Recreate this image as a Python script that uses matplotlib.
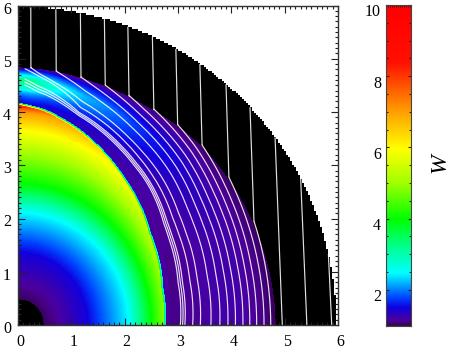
import numpy as np
import matplotlib
matplotlib.use("Agg")
import matplotlib.pyplot as plt
from matplotlib.colors import LinearSegmentedColormap, Normalize
from matplotlib.ticker import MultipleLocator
from matplotlib.transforms import ScaledTranslation

plt.rcParams['font.family'] = ['Liberation Serif', 'DejaVu Serif']

# colour scale
cmap_w = [1.0, 1.15, 1.5, 1.77, 2.47, 3.2, 4.0, 5.0, 5.97, 7.0, 8.4, 10.0]
cmap_c = ['#3a0060', '#4c009c', '#1000e0', '#0040ff', '#00ffff', '#00ff90', '#00ff00',
          '#a0ff00', '#ffff00', '#ffa000', '#ff1000', '#ff0000']

# inner region: radius of each W level on the x axis and on the y axis
levels_w = [1.0, 1.1, 1.25, 1.5, 1.77, 2.47, 4.0, 5.0, 6.0, 7.0, 8.5, 10.0]
levels_rx = [0.46, 0.62, 0.9, 1.3, 1.5, 2.07, 2.5, 2.8, 3.1, 3.3, 3.5, 3.7]
levels_ry = [0.46, 0.62, 0.92, 1.35, 1.55, 2.1, 2.65, 3.2, 3.65, 3.98, 4.13, 4.2]

# inner and outer boundaries of the shell against polar angle
theta_deg = [0, 15, 35, 55, 72, 83, 90]
contact_r = [2.75, 2.8, 3.02, 3.42, 3.82, 4.06, 4.15]
shock_theta = [0, 30, 45, 60, 75, 90]
shock_r = [4.85, 4.83, 4.83, 4.78, 4.8, 4.85]
outer_r = 5.97

# shell: W across the shell, near the x axis and near the y axis
shell_s = [0, 0.1, 0.3, 0.5, 0.65, 0.85, 0.96, 1.0]
shell_w_x = [1.15, 1.13, 1.17, 1.22, 1.22, 1.13, 1.04, 1.0]
shell_w_y = [1.5, 1.6, 2.1, 3.0, 3.3, 2.0, 1.3, 1.0]
blend_theta = [0, 25, 40, 55, 65, 74, 80, 87, 90]
blend_w = [0, 0.01, 0.07, 0.2, 0.35, 0.5, 0.67, 1.0, 1.0]

# streamlines: x position where each one starts at the top
line_b = [0.24, 0.71, 1.17, 1.62, 2.06, 2.52, 2.96, 3.41, 3.9, 4.35, 4.82, 5.3, 5.82]
# tight bundle of lines that start inside the shell
bundle_theta = [0, 30, 48, 74, 85, 90]
bundle_s = [0.18, 0.2, 0.25, 0.31, 0.55, 0.75]
bundle_spread = [1.0, 1.0, 1.0, 1.5, 3.5, 4.0]
bundle_offset = [-0.04, -0.02, 0.0, 0.07]

ticks_main = [0, 1, 2, 3, 4, 5, 6]
ticks_bar = [2, 4, 6, 8, 10]
wmin, wmax = 1.0, 10.0

def contact(t):
    return np.interp(t, theta_deg, contact_r)

def shock(t):
    return np.interp(t, shock_theta, shock_r)

def w_field(X, Y):
    r = np.hypot(X, Y)
    t = np.degrees(np.arctan2(Y, X))
    ct, st = np.cos(np.radians(t)).ravel(), np.sin(np.radians(t)).ravel()
    flat_r = r.ravel()
    lr = np.array([1.0 / np.sqrt((ct / a) ** 2 + (st / b) ** 2) for a, b in zip(levels_rx, levels_ry)])
    idx = np.clip((lr < flat_r).sum(axis=0), 1, len(levels_w) - 1)
    cols = np.arange(flat_r.size)
    r0, r1 = lr[idx - 1, cols], lr[idx, cols]
    wl = np.array(levels_w)
    w_in = wl[idx - 1] + (wl[idx] - wl[idx - 1]) * (flat_r - r0) / (r1 - r0)
    w_in = np.where(flat_r < lr[0], 0.0, w_in).reshape(r.shape)
    rc, rs = contact(t), shock(t)
    s = np.clip((r - rc) / (rs - rc), 0, 1)
    wx = np.interp(s, shell_s, shell_w_x)
    wy = np.interp(s, shell_s, shell_w_y)
    k = np.interp(t, blend_theta, blend_w)
    out = np.where(r < rc, w_in, wx + (wy - wx) * k)
    return np.where(r >= rs, 0.0, out)

def soften(a, w=1):
    # light box blur, matching the soft look of the reference raster
    a = np.pad(a, w, mode='edge')
    kernel = np.ones(2 * w + 1) / (2 * w + 1)
    a = np.apply_along_axis(lambda v: np.convolve(v, kernel, mode='same'), 0, a)
    a = np.apply_along_axis(lambda v: np.convolve(v, kernel, mode='same'), 1, a)
    return a[w:-w, w:-w]

n = 320
cell = 6.0 / n
xs = (np.arange(n) + 0.5) * cell
X, Y = np.meshgrid(xs, xs)
W = soften(w_field(X, Y))
step = 2 * cell
Rsnap = np.hypot(np.floor(X / step) * step + step / 2, np.floor(Y / step) * step + step / 2)
W = np.ma.masked_where(Rsnap > outer_r, W)

cm = LinearSegmentedColormap.from_list(
    'w', [((v - wmin) / (wmax - wmin), c) for v, c in zip(cmap_w, cmap_c)], N=256)
cm.set_under('black')
cm.set_bad('white')
norm = Normalize(wmin, wmax)

fig = plt.figure(figsize=(4.49, 3.49), dpi=100)
W_px, H_px = 449.0, 349.0
ax = fig.add_axes([18 / W_px, 1 - 325 / H_px, 320 / W_px, 319.5 / H_px])
ax.imshow(W, origin='lower', extent=[0, 6, 0, 6], cmap=cm, norm=norm,
          interpolation='nearest', aspect='auto', zorder=1)

line_style = dict(color='white', lw=0.85, alpha=0.88, zorder=2, solid_capstyle='butt')
p = 0.8
for b in line_b:
    lean = 0.008 * b
    top = np.sqrt(max(outer_r ** 2 - b ** 2, 0))
    ys = np.linspace(top, 0, 500)
    xl = b + lean * (top - ys)
    rl = np.hypot(xl, ys)
    tl = np.degrees(np.arctan2(ys, xl))
    inside = rl < shock(tl)
    if inside.any():
        i = np.argmax(inside)
        phi_e = np.radians(90 - tl[i])
        be = shock(tl[i]) * np.sin(phi_e)
        phis = np.linspace(phi_e, np.pi / 2, 300)
        tt = 90 - np.degrees(phis)
        ratio = np.clip(be / (shock(tt) * np.sin(phis)), 0, 1)
        s0 = np.interp(tt, bundle_theta, bundle_s) + 0.07
        s = s0 + (1 - s0) * ratio ** p
        rr = contact(tt) + s * (shock(tt) - contact(tt))
        xp = np.r_[xl[:i + 1], rr * np.sin(phis)]
        yp = np.r_[ys[:i + 1], rr * np.cos(phis)]
    else:
        xp, yp = xl, ys
    ax.plot(xp, yp, **line_style)

tt = np.linspace(88.5, 0, 300)
for off in bundle_offset:
    s = np.interp(tt, bundle_theta, bundle_s) + off * np.interp(tt, bundle_theta, bundle_spread)
    rr = contact(tt) + s * (shock(tt) - contact(tt))
    ax.plot(rr * np.cos(np.radians(tt)), rr * np.sin(np.radians(tt)), **line_style)

ax.set_xlim(0, 6)
ax.set_ylim(0, 6)
ax.set_xticks(ticks_main)
ax.set_yticks(ticks_main)
ax.xaxis.set_minor_locator(MultipleLocator(0.1))
ax.yaxis.set_minor_locator(MultipleLocator(0.1))
ax.tick_params(which='major', direction='in', top=True, right=True, length=5, width=0.8,
               labelsize=11.5, color='#222222', zorder=5)
ax.tick_params(which='minor', direction='in', top=True, right=True, length=2.5, width=0.8, color='#222222')
ax.tick_params(axis='x', which='major', pad=6.5)
ax.tick_params(axis='y', which='major', pad=5)
for sp in ax.spines.values():
    sp.set_linewidth(1.0)
    sp.set_color('#333333')
dx = ScaledTranslation(2 / 100, 0, fig.dpi_scale_trans)
dy = ScaledTranslation(0, -2 / 100, fig.dpi_scale_trans)
for lab in ax.get_xticklabels():
    lab.set_transform(lab.get_transform() + dx)
for lab in ax.get_yticklabels():
    lab.set_transform(lab.get_transform() + dy)

cax = fig.add_axes([386 / W_px, 1 - 325.5 / H_px, 25 / W_px, 320.5 / H_px])
bar_vals = np.linspace(wmin, wmax, 256).reshape(-1, 1)
cax.imshow(bar_vals, origin='lower', extent=[0, 1, wmin, wmax], cmap=cm, norm=norm,
           aspect='auto', interpolation='bilinear')
cax.set_xticks([])
cax.xaxis.set_minor_locator(MultipleLocator(0.08))
cax.set_yticks(ticks_bar)
cax.yaxis.set_minor_locator(MultipleLocator(0.5))
cax.tick_params(axis='x', which='minor', direction='in', top=True, bottom=True, length=1.5, width=0.6,
                color='#222222')
cax.tick_params(axis='y', which='major', direction='in', left=True, right=True, length=2.5, width=0.8,
                labelsize=11.5, pad=3.6, color='#222222')
cax.tick_params(axis='y', which='minor', direction='in', left=True, right=True, length=1.5, width=0.8,
                color='#222222')
for sp in cax.spines.values():
    sp.set_linewidth(0.8)
    sp.set_color('#444444')
dbar = ScaledTranslation(0, -5.5 / 100, fig.dpi_scale_trans)
for lab in cax.get_yticklabels():
    lab.set_transform(lab.get_transform() + dbar)
fig.text(440 / W_px, 1 - 163 / H_px, 'W', rotation=90, fontsize=17, style='italic',
         ha='center', va='center')

fig.savefig('out.png', dpi=100)
